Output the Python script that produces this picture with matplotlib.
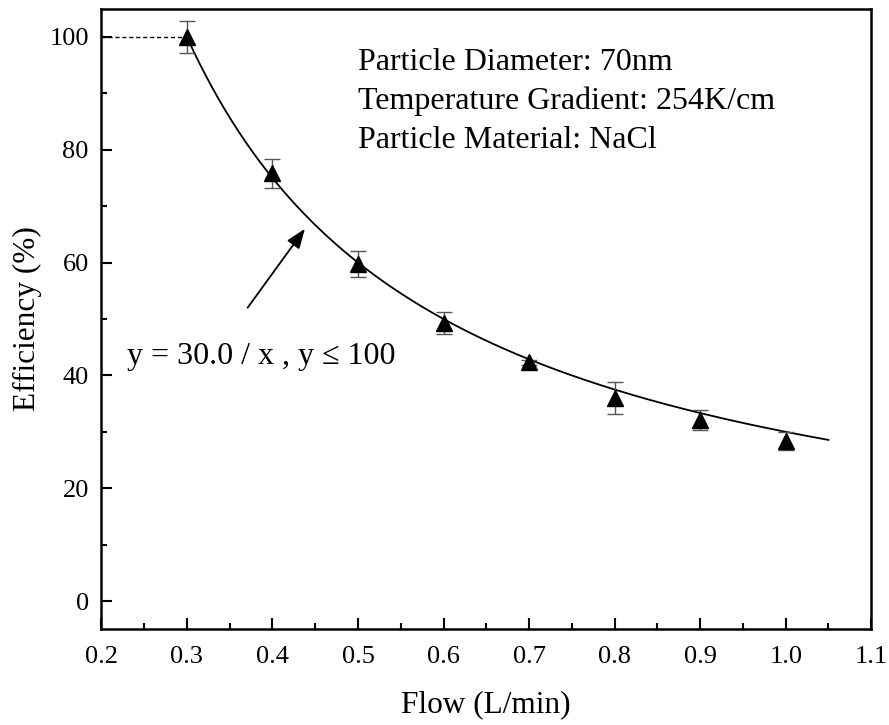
import numpy as np
import matplotlib
matplotlib.use("Agg")
from matplotlib import pyplot as plt
from matplotlib.ticker import MultipleLocator

plt.rcParams['font.family'] = ['Liberation Serif', 'DejaVu Serif']

# measured points
flow = [0.3, 0.4, 0.5, 0.6, 0.7, 0.8, 0.9, 1.0]
eff = [100.0, 75.8, 59.8, 49.3, 42.3, 36.0, 32.1, 28.4]
err = [2.8, 2.6, 2.3, 2.0, 0.4, 2.8, 1.7, 1.6]

# fit y = a / x
a = 30.0
xfit = np.linspace(0.3, 1.05, 200)

fig = plt.figure(figsize=(8.89, 7.25), dpi=100)
ax = fig.add_axes([0.114, 0.132, 0.866, 0.856])

ax.plot(xfit, a / xfit, color='black', lw=1.3)
ax.plot([0.2, 0.3], [100, 100], color='black', lw=1, ls=(0, (3, 2)))
ax.errorbar(flow, eff, yerr=err, fmt='^', color='black', ms=12,
            ecolor='#555555', elinewidth=1, capsize=6, capthick=1)

ax.set_xlim(0.2, 1.1)
ax.set_ylim(-5, 105)
ax.xaxis.set_minor_locator(MultipleLocator(0.05))
ax.yaxis.set_major_locator(MultipleLocator(20))
ax.yaxis.set_minor_locator(MultipleLocator(10))
xt = np.round(np.arange(0.2, 1.15, 0.1), 1)
ax.set_xticks(xt)
ax.set_xticklabels(['%.1f' % v for v in xt])
ax.tick_params(which='both', direction='in', width=1.5, labelsize=19)
ax.tick_params(axis='x', pad=12)
ax.tick_params(axis='y', pad=9)
ax.tick_params(which='major', length=8)
ax.tick_params(which='minor', length=4.5)
for s in ax.spines.values():
    s.set_linewidth(1.8)

ax.set_xlabel('Flow (L/min)', fontsize=22.5, labelpad=16)
ax.set_ylabel('Efficiency (%)', fontsize=22.5, labelpad=5)

info = 'Particle Diameter: 70nm\nTemperature Gradient: 254K/cm\nParticle Material: NaCl'
ax.text(0.5, 98.1, info, fontsize=23, va='top', ha='left', linespacing=1.45)

ax.annotate('', xy=(0.438, 66), xytext=(0.371, 52.0),
            arrowprops=dict(arrowstyle='-|>,head_length=0.8,head_width=0.3',
                            color='black', lw=1.3, mutation_scale=15,
                            shrinkA=0, shrinkB=0))
ax.text(0.23, 43.4, 'y = 30.0 / x , y \u2264 100', fontsize=23, va='center', ha='left')

fig.savefig('out.png', dpi=100)
